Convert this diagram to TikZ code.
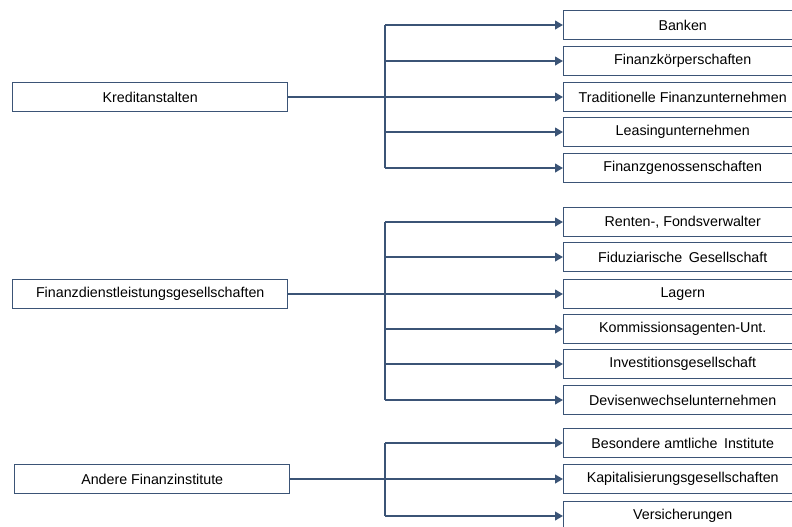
\documentclass[tikz,border=0pt]{standalone}
\usepackage{fontspec}
\setmainfont{Liberation Sans}
\usetikzlibrary{positioning,arrows.meta}
\definecolor{linkblue}{RGB}{59,84,118}

\begin{document}
\begin{tikzpicture}[x=0.75pt,y=-0.75pt,font=\fontsize{10.7}{12}\selectfont,
  groupbox/.style={draw=linkblue,line width=1.1pt,fill=white,minimum width=275*0.75pt,
    minimum height=29*0.75pt,inner sep=0pt,anchor=west},
  kindbox/.style={draw=linkblue,line width=1.1pt,fill=white,minimum width=238*0.75pt,
    minimum height=29*0.75pt,inner sep=0pt,anchor=west},
  link/.style={draw=linkblue,line width=1.5pt},
  tolink/.style={link,-{Triangle[length=6pt,width=6.5pt]}}]
\useasboundingbox (0,0) rectangle (792,526);
\clip (0,0) rectangle (792,526);
% ---- left: the three groups ----
\node[groupbox] (kredit) at (12,97) {Kreditanstalten};
\node[groupbox] (dienst) at (12,294) {Finanzdienstleistungsgesellschaften};
\node[groupbox] (andere) at (14,479) {Andere Finanzinstitute};
% ---- right: the kinds in each group ----
\foreach \nm/\y/\txt in {banken/25/Banken,koerper/61/Finanzkörperschaften,
    tradit/97/Traditionelle Finanzunternehmen,leasing/132/Leasingunternehmen,
    genoss/168/Finanzgenossenschaften,
    renten/222/{Renten-, Fondsverwalter},fiduz/257/Fiduziarische\hspace{2pt} Gesellschaft,
    lagern/294/Lagern,kommiss/329/Kommissionsagenten-Unt.,
    invest/364/Investitionsgesellschaft,devisen/400/Devisenwechselunternehmen,
    besond/443/Besondere amtliche\hspace{2pt} Institute,kapital/479/Kapitalisierungsgesellschaften,
    versich/516/Versicherungen}
  \node[kindbox] (\nm) at (563,\y) {\txt};
% branch points of the three trees
\coordinate (kbr) at (385,97);
\coordinate (dbr) at (385,294);
\coordinate (abr) at (385,479);
% ---- connectors ----
\draw[link] (kredit.east) -- (kbr);
\draw[link] (banken.west -| kbr) -- (genoss.west -| kbr);
\foreach \nm in {banken,koerper,tradit,leasing,genoss}
  \draw[tolink] (\nm.west -| kbr) -- (\nm.west);
\draw[link] (dienst.east) -- (dbr);
\draw[link] (renten.west -| dbr) -- (devisen.west -| dbr);
\foreach \nm in {renten,fiduz,lagern,kommiss,invest,devisen}
  \draw[tolink] (\nm.west -| dbr) -- (\nm.west);
\draw[link] (andere.east) -- (abr);
\draw[link] (besond.west -| abr) -- (versich.west -| abr);
\foreach \nm in {besond,kapital,versich}
  \draw[tolink] (\nm.west -| abr) -- (\nm.west);
\end{tikzpicture}
\end{document}
